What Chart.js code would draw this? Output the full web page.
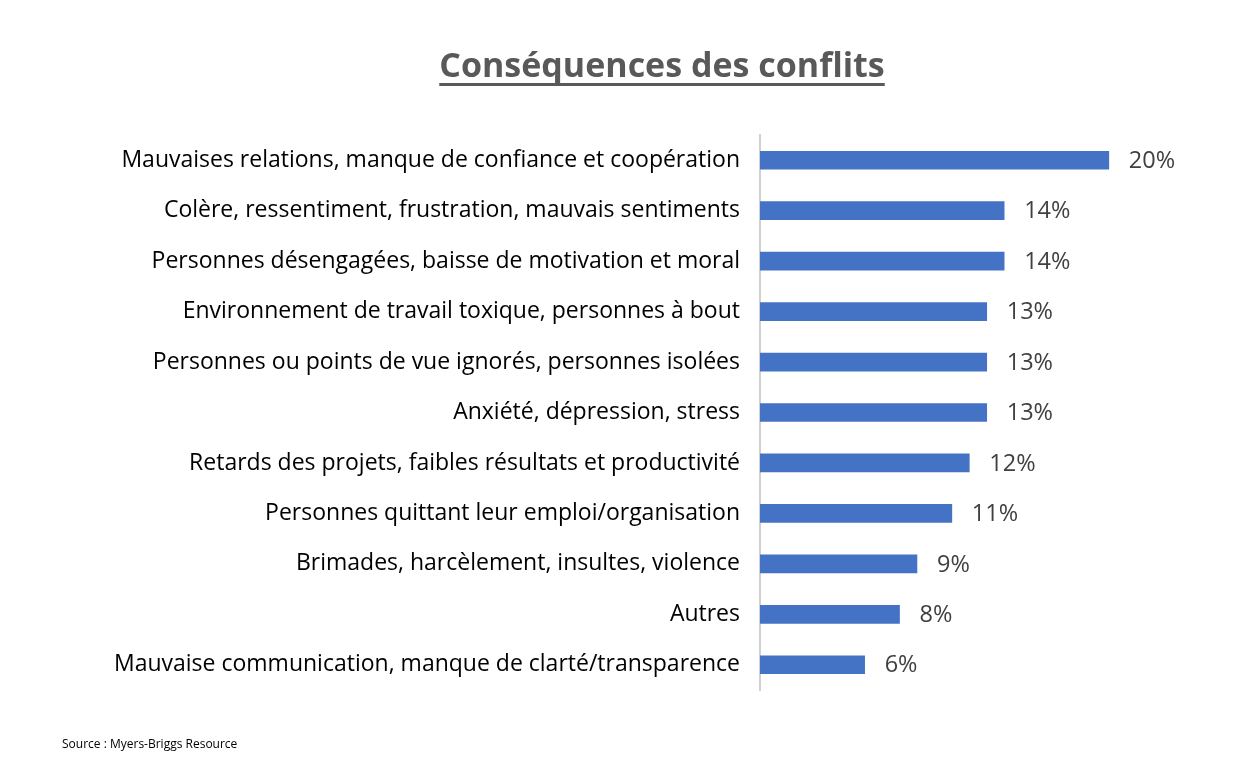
<!DOCTYPE html>
<html>
<head>
<meta charset="utf-8">
<script src="https://cdn.jsdelivr.net/npm/chart.js@4"></script>
<style>
  html, body { margin: 0; padding: 0; background: #fff; }
  canvas { display: block; }
</style>
</head>
<body>
<canvas id="chart" width="1250" height="776"></canvas>
<script>
// données
const categories = [
  'Mauvaises relations, manque de confiance et coopération',
  'Colère, ressentiment, frustration, mauvais sentiments',
  'Personnes désengagées, baisse de motivation et moral',
  'Environnement de travail toxique, personnes à bout',
  'Personnes ou points de vue ignorés, personnes isolées',
  'Anxiété, dépression, stress',
  'Retards des projets, faibles résultats et productivité',
  'Personnes quittant leur emploi/organisation',
  'Brimades, harcèlement, insultes, violence',
  'Autres',
  'Mauvaise communication, manque de clarté/transparence'
];
const values = [20, 14, 14, 13, 13, 13, 12, 11, 9, 8, 6];
const titleText = 'Conséquences des conflits';
const sourceText = 'Source : Myers-Briggs Resource';

const FONT = '"Open Sans", Lato, sans-serif';

// titre souligné + source
const decorPlugin = {
  id: 'decor',
  afterDraw(chart) {
    const ctx = chart.ctx;
    ctx.save();
    ctx.fillStyle = '#595959';
    ctx.font = 'bold 34px ' + FONT;
    ctx.textAlign = 'center';
    ctx.textBaseline = 'alphabetic';
    const cx = 662;
    ctx.fillText(titleText, cx, 77);
    const w = ctx.measureText(titleText).width;
    ctx.fillRect(cx - w / 2, 83, w, 3);

    ctx.fillStyle = '#000';
    ctx.font = '12px ' + FONT;
    ctx.textAlign = 'left';
    ctx.fillText(sourceText, 62, 748);
    ctx.restore();
  }
};

// étiquettes de valeurs
const valueLabels = {
  id: 'valueLabels',
  afterDatasetsDraw(chart) {
    const ctx = chart.ctx;
    const meta = chart.getDatasetMeta(0);
    ctx.save();
    ctx.fillStyle = '#404040';
    ctx.font = '23.5px ' + FONT;
    ctx.textAlign = 'left';
    ctx.textBaseline = 'middle';
    meta.data.forEach((bar, i) => {
      ctx.fillText(values[i] + '%', bar.x + 20, bar.y + 1);
    });
    ctx.restore();
  }
};

new Chart(document.getElementById('chart'), {
  type: 'bar',
  data: {
    labels: categories,
    datasets: [{
      data: values,
      backgroundColor: '#4472c4',
      borderWidth: 0,
      barThickness: 18
    }]
  },
  options: {
    indexAxis: 'y',
    responsive: false,
    animation: false,
    layout: { padding: { top: 135, bottom: 86, left: 0, right: 54 } },
    plugins: {
      legend: { display: false },
      tooltip: { enabled: false }
    },
    scales: {
      x: {
        display: false,
        min: 0,
        max: 25
      },
      y: {
        afterFit(scale) { scale.width = 760; },
        grid: { display: false, drawTicks: false },
        border: { display: true, color: '#d0d0d0', width: 2 },
        ticks: {
          padding: 20,
          color: '#000',
          font: { family: FONT, size: 23 }
        }
      }
    }
  },
  plugins: [valueLabels, decorPlugin]
});
</script>
</body>
</html>
